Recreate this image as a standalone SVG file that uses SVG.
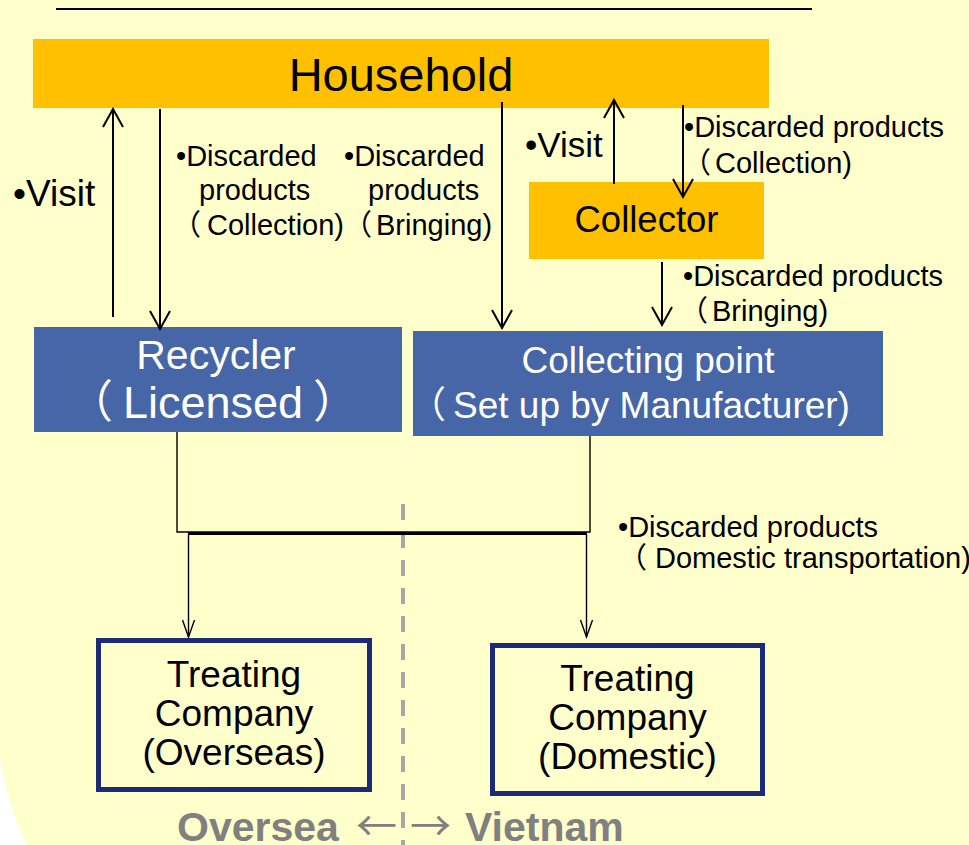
<svg xmlns="http://www.w3.org/2000/svg" width="969" height="845" viewBox="0 0 969 845">
<style>
text{font-family:"Liberation Sans",Arial,"Noto Sans CJK JP",sans-serif;}
.lbl{font-size:29px;fill:#000;}
.orange{fill:#FFC000;}
.blue{fill:#4666A8;}
.wt{fill:#fff;}
.box{fill:#FFFFCC;stroke:#1C2A78;stroke-width:5;}
.ln{fill:none;stroke:#000;stroke-width:2;}
.ln2{fill:none;stroke:#000;stroke-width:1.4;}
.ctr{text-anchor:middle;}
.gray{fill:#808080;font-size:41px;}
.cjk{font-family:"Noto Sans CJK JP",sans-serif;}
</style>
<defs>
<marker id="arr" viewBox="-20 -12 22 24" refX="0" refY="0" markerWidth="22" markerHeight="24" markerUnits="userSpaceOnUse" orient="auto">
<path d="M-18,-10 L0,0 L-18,10" fill="none" stroke="#000" stroke-width="2"/>
</marker>
<marker id="arr2" viewBox="-20 -12 22 24" refX="0" refY="0" markerWidth="22" markerHeight="24" markerUnits="userSpaceOnUse" orient="auto">
<path d="M-17,-6 L0,0 L-17,6" fill="none" stroke="#000" stroke-width="1.4"/>
</marker>
</defs>
<rect x="0" y="0" width="969" height="845" fill="#FFFFCC"/>
<path d="M0,760 Q8,806 27,845 L0,845 Z" fill="#FFFFFF"/>
<line x1="56" y1="9" x2="812" y2="9" stroke="#000" stroke-width="2"/>
<line x1="403" y1="504" x2="403" y2="845" stroke="#A6A6A6" stroke-width="4" stroke-dasharray="16 12"/>

<g id="household">
<rect class="orange" x="33" y="39" width="736" height="69"/>
<text class="ctr" x="401" y="91" font-size="47">Household</text>
</g>
<g id="collector">
<rect class="orange" x="529" y="182" width="235" height="77"/>
<text class="ctr" x="646.5" y="232" font-size="36.5">Collector</text>
</g>
<g id="recycler">
<rect class="blue" x="34" y="327" width="368" height="105"/>
<text class="ctr wt" x="216" y="369" font-size="41">Recycler</text>
<text class="wt" y="418" font-size="45"><tspan x="68">（</tspan><tspan x="123">Licensed</tspan><tspan x="313">）</tspan></text>
</g>
<g id="collecting-point">
<rect class="blue" x="413" y="331" width="470" height="105"/>
<text class="ctr wt" x="648" y="373" font-size="37">Collecting point</text>
<text class="wt" y="418" font-size="37"><tspan x="409">（</tspan><tspan x="453">Set up by Manufacturer)</tspan></text>
</g>
<g id="treating-overseas">
<rect class="box" x="98.5" y="640.5" width="271" height="149"/>
<text class="ctr" x="234" y="687" font-size="37">Treating</text>
<text class="ctr" x="234" y="726" font-size="37">Company</text>
<text class="ctr" x="234" y="765" font-size="37">(Overseas)</text>
</g>
<g id="treating-domestic">
<rect class="box" x="492.5" y="645.5" width="270" height="148"/>
<text class="ctr" x="627.5" y="691" font-size="37">Treating</text>
<text class="ctr" x="627.5" y="730" font-size="37">Company</text>
<text class="ctr" x="627.5" y="769" font-size="37">(Domestic)</text>
</g>

<g id="connectors">
<line class="ln" x1="113" y1="317" x2="113" y2="109" marker-end="url(#arr)"/>
<line class="ln" x1="160" y1="109" x2="160" y2="329" marker-end="url(#arr)"/>
<line class="ln" x1="502" y1="102" x2="502" y2="328" marker-end="url(#arr)"/>
<line class="ln" x1="614" y1="184" x2="614" y2="100" marker-end="url(#arr)"/>
<line class="ln" x1="683" y1="105" x2="683" y2="197" marker-end="url(#arr)"/>
<line class="ln" x1="662" y1="262" x2="662" y2="325" marker-end="url(#arr)"/>
<path class="ln2" d="M177,432 V532 H590 V436"/>
<line x1="188" y1="533.5" x2="587" y2="533.5" stroke="#000" stroke-width="3"/>
<line class="ln2" x1="188.5" y1="534" x2="188.5" y2="637" marker-end="url(#arr2)"/>
<line class="ln2" x1="586.5" y1="534" x2="586.5" y2="637" marker-end="url(#arr2)"/>
</g>

<g id="labels">
<text x="13" y="206" font-size="37">•Visit</text>
<text x="525" y="157" font-size="35">•Visit</text>
<text class="lbl" x="176" y="166">•Discarded</text>
<text class="lbl" x="199" y="200">products</text>
<text class="lbl" y="235" font-size="28.5"><tspan x="172">（</tspan><tspan x="207">Collection)</tspan></text>
<text class="lbl" x="344" y="166">•Discarded</text>
<text class="lbl" x="368" y="200">products</text>
<text class="lbl" y="235"><tspan x="343">（</tspan><tspan x="376">Bringing)</tspan></text>
<text class="lbl" x="684" y="137">•Discarded products</text>
<text class="lbl" y="173"><tspan x="682">（</tspan><tspan x="715">Collection)</tspan></text>
<text class="lbl" x="683" y="286">•Discarded products</text>
<text class="lbl" y="321"><tspan x="679">（</tspan><tspan x="712">Bringing)</tspan></text>
<text class="lbl" x="618" y="537">•Discarded products</text>
<text class="lbl" y="568" font-size="27.5"><tspan x="618">（</tspan><tspan x="655">Domestic transportation)</tspan></text>
</g>
<g id="region-labels">
<text class="gray" x="177" y="841" font-weight="bold">Oversea</text>
<text class="gray cjk" x="356" y="841">←</text>
<text class="gray cjk" x="410" y="841">→</text>
<text class="gray" x="465" y="841" font-weight="bold">Vietnam</text>
</g>
</svg>
